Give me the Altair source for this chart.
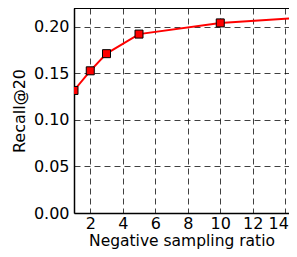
import altair as alt
import pandas as pd

ratios = [1, 2, 3, 5, 10, 15]
recall = [0.1315, 0.1526, 0.171, 0.192, 0.204, 0.2097]
x_ticks = [2, 4, 6, 8, 10, 12, 14]
y_ticks = [0, 0.05, 0.10, 0.15, 0.20]
y_max = 0.22

df = pd.DataFrame({"ratio": ratios, "recall": recall})

xscale = alt.Scale(domain=[1, 14.23], nice=False, zero=False)
yscale = alt.Scale(domain=[0, y_max], nice=False)

x = alt.X("ratio:Q", title="Negative sampling ratio", scale=xscale,
          axis=alt.Axis(values=x_ticks, format="d",
                        titleBaseline="alphabetic", titleY=32.5, titleFontSize=15.5,
                        labelPadding=2,
                        labelOffset={"condition": {"test": "datum.value == 14", "value": -7},
                                     "value": 0}))
y = alt.Y("recall:Q", title="Recall@20", scale=yscale,
          axis=alt.Axis(values=y_ticks, format=".2f"))

line = alt.Chart(df).mark_line(color="#ff0000", strokeWidth=2, clip=True).encode(x=x, y=y)
pts = alt.Chart(df).mark_square(color="#ff0000", stroke="black", strokeWidth=1,
                                 size=64, opacity=1, filled=True, clip=True).encode(x=x, y=y)
top = alt.Chart(df).mark_rule(color="black", strokeWidth=1.5).encode(
    y=alt.datum(y_max, scale=yscale)
)

chart = alt.layer(line, pts, top).properties(
    width=215, height=205,
    autosize=alt.AutoSizeParams(type="none"),
    padding={"left": 66, "top": 0, "right": 0, "bottom": 36},
).configure_view(strokeWidth=0).configure_axis(
    grid=True, gridColor="black", gridDash=[6, 4], gridWidth=1, gridOpacity=0.75,
    domainColor="black", domainWidth=1.5, ticks=False,
    labelFont="DejaVu Sans", labelFontSize=16, labelColor="black",
    titleFont="DejaVu Sans", titleFontSize=16, titleFontWeight="normal", titleColor="black",
).configure_axisY(titlePadding=6, labelPadding=5)

chart.save("out.html", embed_options={"renderer": "svg", "actions": False})
